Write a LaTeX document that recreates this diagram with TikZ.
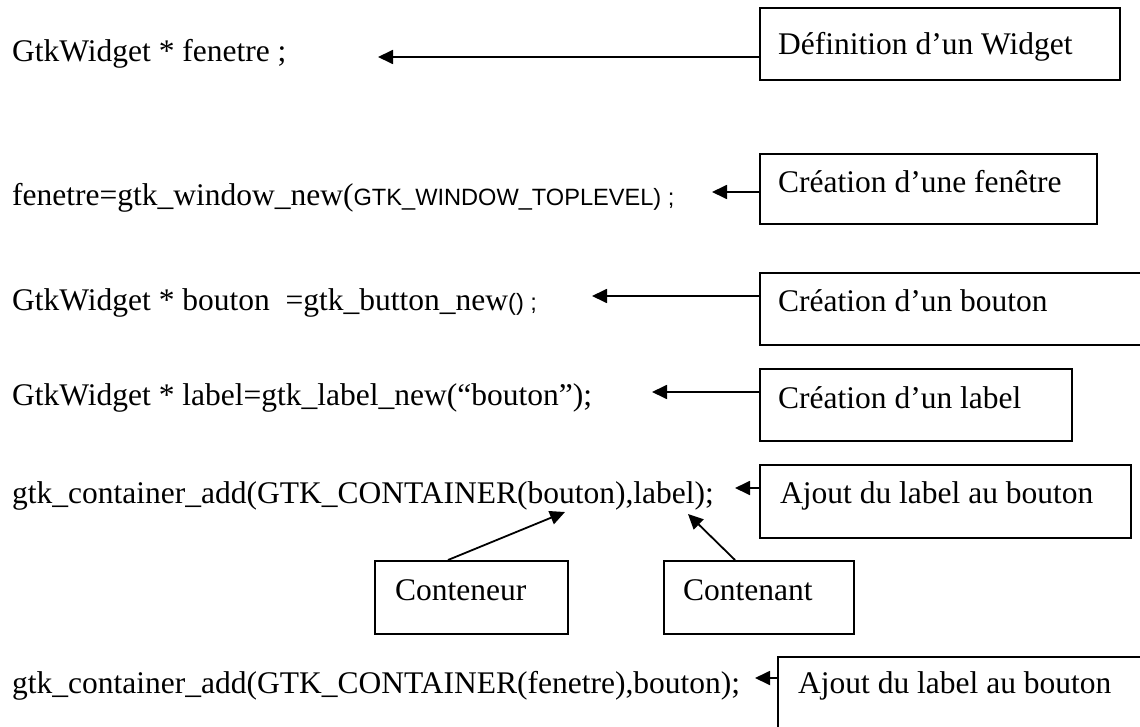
\documentclass[tikz,border=0pt]{standalone}
\usepackage{fontspec}
\setmainfont{Liberation Serif}
\newfontfamily\sansf{Liberation Sans}
\usetikzlibrary{arrows.meta}
\tikzset{
  code/.style={anchor=base west, inner sep=0pt, font=\fontsize{31.5}{36}\selectfont},
  btxt/.style={anchor=base west, inner sep=0pt, font=\fontsize{31.5}{36}\selectfont},
  frame/.style={draw, line width=1.8pt, rectangle, inner sep=0pt, anchor=north west},
  arr/.style={line width=1.8pt, -{Triangle[length=15pt,width=14pt]}},
}
\newcommand{\sm}[1]{{\sansf\fontsize{23.6}{28}\selectfont #1}}
\begin{document}
\begin{tikzpicture}[x=1pt,y=-1pt]
\useasboundingbox (0,0) rectangle (1140,727);
% code lines
\node[code] (l1) at (12,62) {GtkWidget * fenetre ;};
\node[code] (l2) at (12,206) {fenetre=gtk\_window\_new(\sm{GTK\_WINDOW\_TOPLEVEL) ;}};
\node[code] (l3) at (12,310) {GtkWidget * bouton \ =gtk\_button\_new\sm{() ;}};
\node[code] (l4) at (12,405) {GtkWidget * label=gtk\_label\_new(“bouton”);};
\node[code] (l5) at (12,503) {gtk\_container\_add(GTK\_CONTAINER(bouton),label);};
\node[code] (l6) at (12,693) {gtk\_container\_add(GTK\_CONTAINER(fenetre),bouton);};
% boxes
\node[frame, minimum width=360pt, minimum height=72pt] (b1) at (759,7) {};
\node[btxt] (t1) at (778,55) {Définition d’un Widget};
\node[frame, minimum width=337pt, minimum height=70pt] (b2) at (759,153) {};
\node[btxt] (t2) at (778,193) {Création d’une fenêtre};
\node[frame, minimum width=406pt, minimum height=72pt] (b3) at (759,272) {};
\node[btxt] (t3) at (778,312) {Création d’un bouton};
\node[frame, minimum width=312pt, minimum height=72pt] (b4) at (759,368) {};
\node[btxt] (t4) at (778,408) {Création d’un label};
\node[frame, minimum width=371pt, minimum height=73pt] (b5) at (759,464) {};
\node[btxt] (t5) at (780,503) {Ajout du label au bouton};
\node[frame, minimum width=193pt, minimum height=73pt] (b7) at (374,560) {};
\node[btxt] (t7) at (395,600) {Conteneur};
\node[frame, minimum width=190pt, minimum height=73pt] (b8) at (663,560) {};
\node[btxt] (t8) at (683,600) {Contenant};
\node[frame, minimum width=390pt, minimum height=90pt] (b6) at (777,656) {};
\node[btxt] (t6) at (798,693) {Ajout du label au bouton};
% arrow tips
\coordinate (p1) at (378,57);
\coordinate (p2) at (712,192);
\coordinate (p3) at (592,296);
\coordinate (p4) at (652,392);
\coordinate (p5) at (735,488);
\coordinate (p6) at (755,678);
\coordinate (p7) at (565,512);
\coordinate (p8) at (688,514);
\draw[arr] (b1.west |- p1) -- (p1);
\draw[arr] (b2.west |- p2) -- (p2);
\draw[arr] (b3.west |- p3) -- (p3);
\draw[arr] (b4.west |- p4) -- (p4);
\draw[arr] (b5.west |- p5) -- (p5);
\draw[arr] (b6.west |- p6) -- (p6);
\draw[arr] (b7.north west) ++(74,0) -- (p7);
\draw[arr] (b8.north west) ++(72,0) -- (p8);
\end{tikzpicture}
\end{document}
